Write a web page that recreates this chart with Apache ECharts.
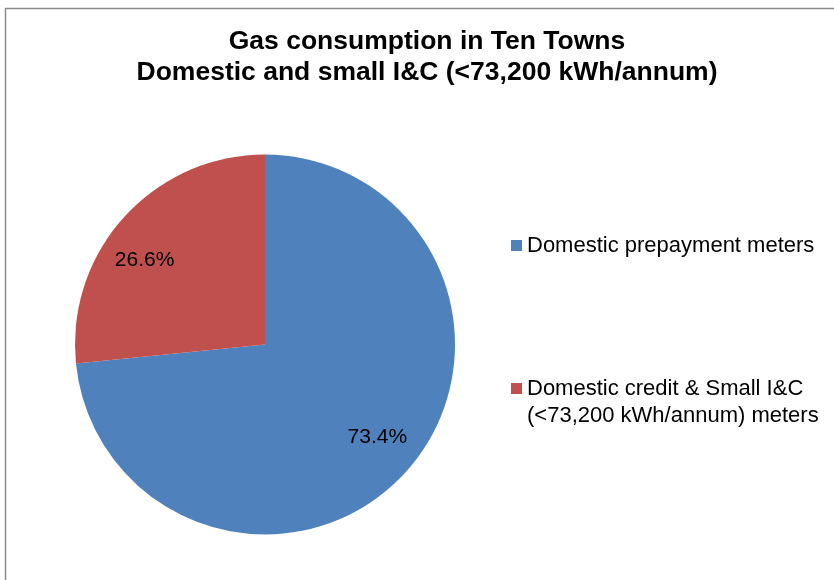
<!DOCTYPE html>
<html>
<head>
<meta charset="utf-8">
<script src="https://cdn.jsdelivr.net/npm/echarts@6/dist/echarts.min.js"></script>
<style>
  html, body { margin: 0; padding: 0; background: #fff; }
  #chart { width: 834px; height: 580px; }
</style>
</head>
<body>
<div id="chart"></div>
<script>
// Share of gas consumption by meter type (percent)
const categories = [
  'Domestic prepayment meters',
  'Domestic credit & Small I&C (<73,200 kWh/annum) meters'
];
const shares = [73.4, 26.6];
const sliceColors = ['#4F81BD', '#C0504D'];
const titleLines = [
  'Gas consumption in Ten Towns',
  'Domestic and small I&C (<73,200 kWh/annum)'
];

const FONT = '"Liberation Sans", Arial, sans-serif';
const pieData = categories.map((name, i) => ({
  name,
  value: shares[i],
  itemStyle: { color: sliceColors[i] }
}));

// small nudges so the percentage labels sit where the spreadsheet put them
const labelNudge = [[1.5, -8], [-9.5, 16]];

const chart = echarts.init(document.getElementById('chart'));

const legendText = {
  fontFamily: FONT,
  fontSize: 22,
  color: '#000',
  lineHeight: 27
};

chart.setOption({
  animation: false,
  backgroundColor: '#fff',
  title: {
    text: titleLines.join('\n'),
    left: 427,
    textAlign: 'center',
    top: 26,
    padding: 0,
    textStyle: {
      fontFamily: FONT,
      fontSize: 26.5,
      fontWeight: 'bold',
      color: '#000',
      lineHeight: 31
    }
  },
  legend: [
    {
      data: [categories[0]],
      left: 511,
      top: 232,
      padding: 0,
      icon: 'rect',
      itemWidth: 11,
      itemHeight: 11,
      itemGap: 0,
      selectedMode: false,
      textStyle: legendText
    },
    {
      data: [categories[1]],
      left: 511,
      top: 348,
      padding: 0,
      icon: 'rect',
      itemWidth: 11,
      itemHeight: 11,
      itemGap: 0,
      selectedMode: false,
      // blank first line keeps the swatch level with the first text line
      formatter: name => ' \n' + name.replace(' (<', '\n(<'),
      textStyle: legendText
    }
  ],
  graphic: [
    {
      type: 'rect',
      shape: { x: 5.5, y: 8.5, width: 900, height: 700 },
      style: { fill: 'none', stroke: '#8a8a8a', lineWidth: 1.5 },
      silent: true,
      z: -1
    }
  ],
  series: [
    {
      type: 'pie',
      center: [265, 344.5],
      radius: [0, 190],
      startAngle: 90,
      clockwise: true,
      label: { show: false },
      labelLine: { show: false },
      emphasis: { disabled: true },
      itemStyle: { borderWidth: 0 },
      data: pieData
    },
    {
      // transparent ring used only to place the percentage labels
      type: 'pie',
      center: [265, 344.5],
      radius: [103, 190],
      startAngle: 90,
      clockwise: true,
      silent: true,
      emphasis: { disabled: true },
      itemStyle: { color: 'rgba(0,0,0,0)', borderWidth: 0 },
      label: {
        show: true,
        position: 'inside',
        formatter: p => p.value.toFixed(1) + '%',
        fontFamily: FONT,
        fontSize: 21,
        color: '#000'
      },
      labelLayout: p => ({ dx: labelNudge[p.dataIndex][0], dy: labelNudge[p.dataIndex][1] }),
      labelLine: { show: false },
      data: categories.map((name, i) => ({ name, value: shares[i] }))
    }
  ]
});
</script>
</body>
</html>
